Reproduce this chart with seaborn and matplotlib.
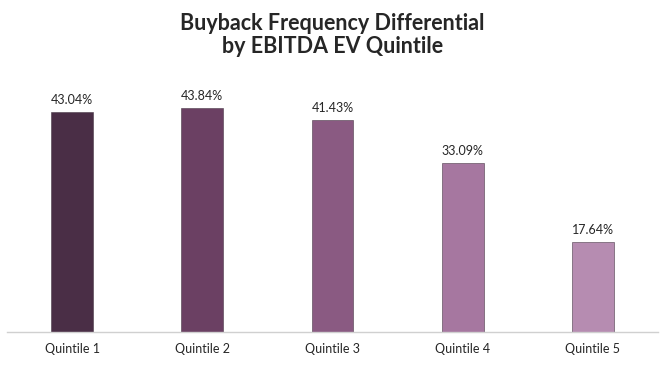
import matplotlib
matplotlib.use("Agg")
import matplotlib.pyplot as plt
import seaborn as sns
import pandas as pd

# --- data ---
categories = ["Quintile 1", "Quintile 2", "Quintile 3", "Quintile 4", "Quintile 5"]
values = [0.4304, 0.4384, 0.4143, 0.3309, 0.1764]
bar_colors = ["#4a2e46", "#6b4063", "#8a5a82", "#a677a0", "#b68cb1"]

sns.set_theme(style="white")
plt.rcParams["font.family"] = ["Lato", "DejaVu Sans"]

df = pd.DataFrame({"quintile": categories, "diff": values})

fig = plt.figure(figsize=(6.65, 3.67), dpi=100)
ax = fig.add_axes([0.0105, 0.0954, 0.979, 0.6962])

sns.barplot(data=df, x="quintile", y="diff", hue="quintile", palette=bar_colors,
            width=0.32, legend=False, ax=ax, edgecolor="#4a3a48", linewidth=0.4,
            saturation=1)

ax.set_ylim(0, 0.5)
ax.set_xlim(-0.5, 4.5)
ax.set_xlabel("")
ax.set_ylabel("")
ax.set_yticks([])
for side in ["top", "right", "left"]:
    ax.spines[side].set_visible(False)
ax.spines["bottom"].set_color("#d0d0d0")
ax.spines["bottom"].set_linewidth(1)
ax.tick_params(axis="x", length=0, pad=8, labelsize=9, colors="#262626")

for i, v in enumerate(values):
    ax.text(i, v + 0.012, f"{v*100:.2f}%", ha="center", va="bottom",
            fontsize=9, color="#262626")

fig.text(0.5, 0.905, "Buyback Frequency Differential\nby EBITDA EV Quintile",
         ha="center", va="center", fontsize=15.5, fontweight="bold",
         color="#262626", linespacing=1.1)

fig.savefig("out.png", dpi=100)
